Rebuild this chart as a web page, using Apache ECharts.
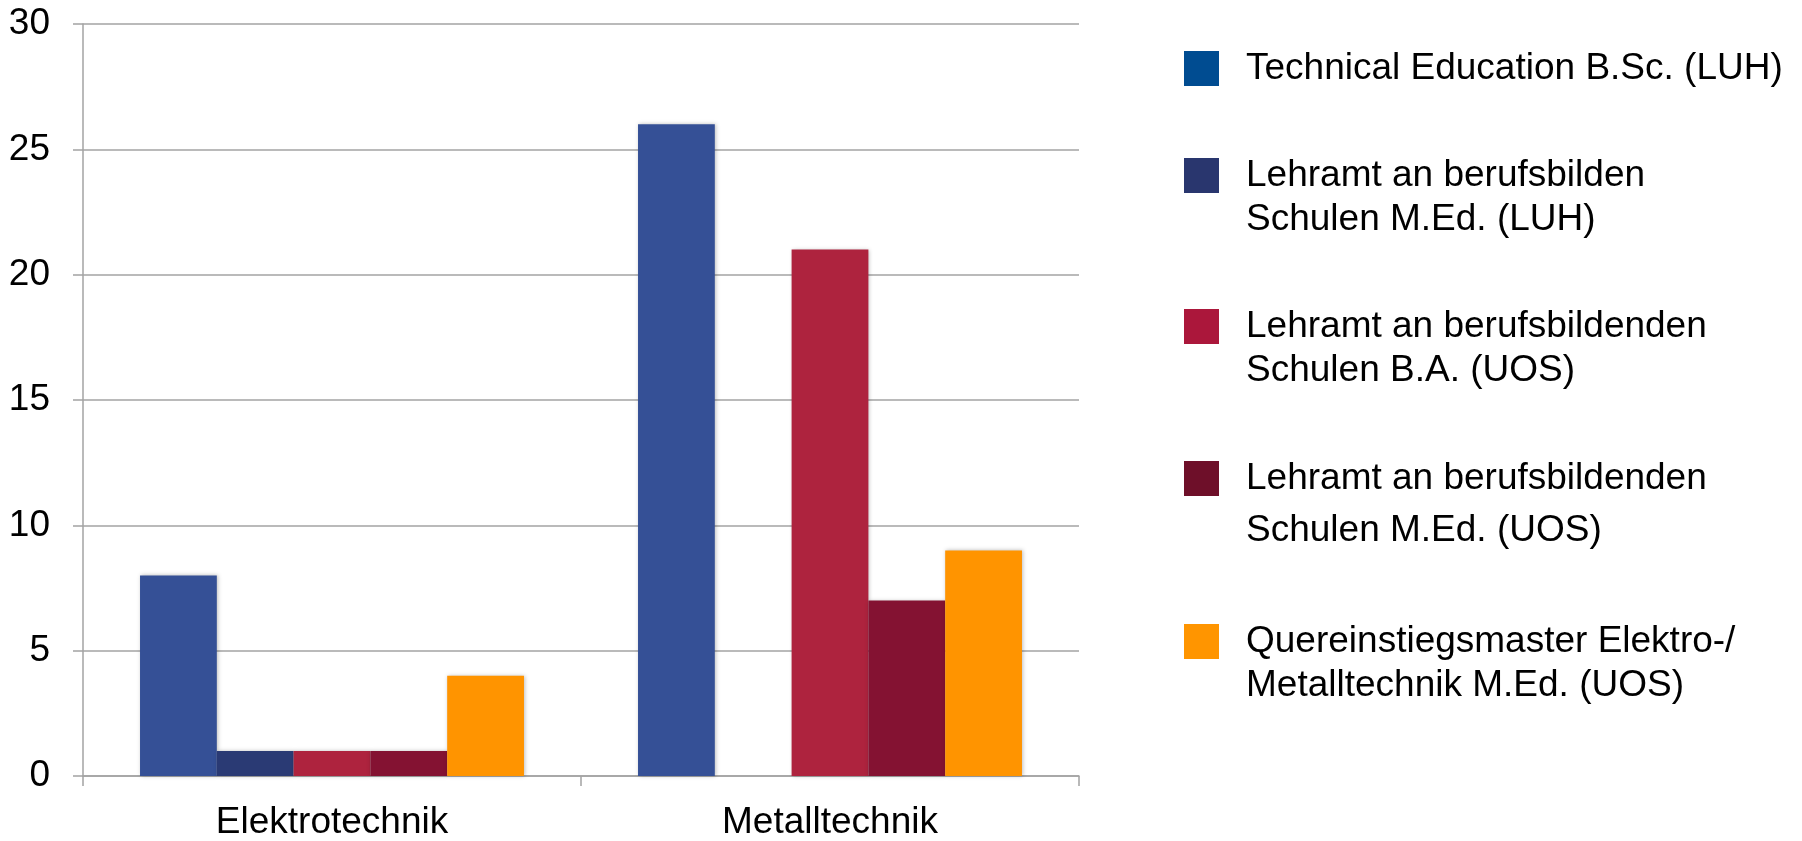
<!DOCTYPE html>
<html>
<head>
<meta charset="utf-8">
<script src="https://cdn.jsdelivr.net/npm/echarts@6/dist/echarts.min.js"></script>
<style>
html,body{margin:0;padding:0;background:#fff;}
#chart{width:1802px;height:841px;}
</style>
</head>
<body>
<div id="chart"></div>
<script>
const categories = ['Elektrotechnik', 'Metalltechnik'];
const seriesNames = [
  'Technical Education B.Sc. (LUH)',
  'Lehramt an berufsbilden\nSchulen M.Ed. (LUH)',
  'Lehramt an berufsbildenden\nSchulen B.A. (UOS)',
  'Lehramt an berufsbildenden\nSchulen M.Ed. (UOS)',
  'Quereinstiegsmaster Elektro-/\nMetalltechnik M.Ed. (UOS)'
];
const techEduBSc = [8, 26];
const lehramtMEdLUH = [1, 0];
const lehramtBAUOS = [1, 21];
const lehramtMEdUOS = [1, 7];
const quereinstieg = [4, 9];
const seriesValues = [techEduBSc, lehramtMEdLUH, lehramtBAUOS, lehramtMEdUOS, quereinstieg];
const barColors = ['#355096', '#2a3a74', '#ae233e', '#841232', '#ff9400'];
const legendColors = ['#004c91', '#29366e', '#ab173b', '#6e0f29', '#ff9500'];

const FONT = "'Liberation Sans', Arial, Helvetica, sans-serif";
const GRID_COLOR = '#a3a3a3';

// legend layout: square top, line height
const legendTops = [50, 158, 309, 461, 624];
const legendLineHeights = [35, 44, 44, 52, 44];

const legends = seriesNames.map((name, i) => {
  const lines = name.split('\n').length;
  const L = legendLineHeights[i];
  const h = lines > 1 ? 35 + L : 35;
  const icon = 'path://M0,0H35V35H0Z M57,' + (h - 0.01) + 'H57.01V' + h + 'H57Z';
  const blockTop = lines > 1 ? Math.min(0, (h - lines * L) / 2) : 0;
  return {
    orient: 'vertical',
    left: 1184,
    top: legendTops[i] + blockTop,
    padding: 0,
    icon: icon,
    itemWidth: 57,
    itemHeight: h,
    selectedMode: false,
    data: [{ name: name, itemStyle: { color: legendColors[i] } }],
    textStyle: { fontFamily: FONT, fontSize: 37, color: '#000', lineHeight: L }
  };
});

const chart = echarts.init(document.getElementById('chart'), null, { renderer: 'canvas' });
chart.setOption({
  backgroundColor: '#fff',
  animation: false,
  legend: legends,
  grid: { left: 83, right: 723, top: 24, bottom: 62, containLabel: false },
  xAxis: {
    type: 'category',
    data: categories,
    axisLine: { show: true, lineStyle: { color: GRID_COLOR, width: 1.5 } },
    axisTick: { show: true, length: 10, alignWithLabel: false, lineStyle: { color: GRID_COLOR, width: 1.5 } },
    axisLabel: { fontFamily: FONT, fontSize: 37, color: '#000', margin: 28 }
  },
  yAxis: {
    type: 'value',
    min: 0,
    max: 30,
    interval: 5,
    axisLine: { show: true, lineStyle: { color: GRID_COLOR, width: 1.5 } },
    axisTick: { show: true, length: 10, lineStyle: { color: GRID_COLOR, width: 1.5 } },
    splitLine: { show: true, lineStyle: { color: GRID_COLOR, width: 1.5 } },
    axisLabel: { fontFamily: FONT, fontSize: 37, color: '#000', margin: 33, padding: [4, 0, 0, 0] }
  },
  series: seriesNames.map((name, i) => ({
    name: name,
    type: 'bar',
    data: seriesValues[i],
    barGap: '0%',
    barCategoryGap: '22.9%',
    itemStyle: {
      color: barColors[i],
      shadowBlur: 4,
      shadowColor: 'rgba(0,0,0,0.25)',
      shadowOffsetX: 1,
      shadowOffsetY: 0
    }
  }))
});
</script>
</body>
</html>
